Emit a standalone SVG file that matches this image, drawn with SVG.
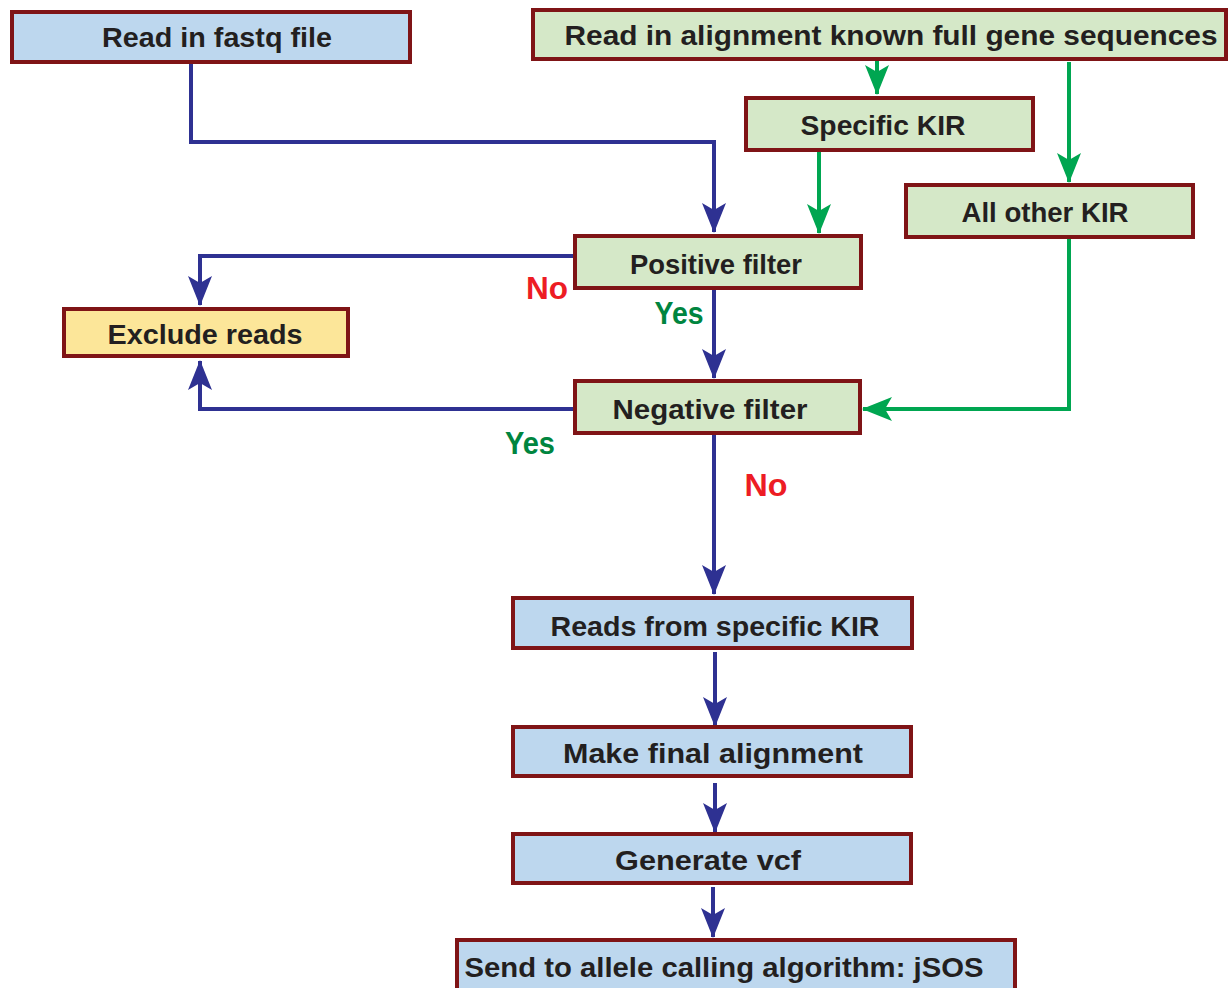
<svg xmlns="http://www.w3.org/2000/svg" width="1228" height="988" viewBox="0 0 1228 988">
<style>
.box{stroke:#7F1416;stroke-width:4}
.blue{fill:#BDD7EE}
.green{fill:#D5E8C8}
.yellow{fill:#FCE699}
.t{font-family:"Liberation Sans",Arial,sans-serif;font-weight:bold;font-size:28px;fill:#231F20;text-anchor:middle}
.lbl{font-family:"Liberation Sans",Arial,sans-serif;font-weight:bold;font-size:31px;text-anchor:middle}
.cb{fill:none;stroke:#2E3192;stroke-width:4}
.cg{fill:none;stroke:#00A651;stroke-width:4}
</style>
<defs>
<marker id="ab" markerUnits="userSpaceOnUse" viewBox="0 0 30 24" refX="29" refY="12" markerWidth="30" markerHeight="24" orient="auto"><path d="M0,0 L30,12 L0,24 L7,12 Z" fill="#2E3192"/></marker>
<marker id="ag" markerUnits="userSpaceOnUse" viewBox="0 0 30 24" refX="29" refY="12" markerWidth="30" markerHeight="24" orient="auto"><path d="M0,0 L30,12 L0,24 L7,12 Z" fill="#00A651"/></marker>
</defs>
<rect width="1228" height="988" fill="#FFFFFF"/>
<g id="connectors">
<path class="cb" d="M191,62 V142 H714 V232" marker-end="url(#ab)"/>
<path class="cg" d="M877,60 V94" marker-end="url(#ag)"/>
<path class="cg" d="M1069,62 V182" marker-end="url(#ag)"/>
<path class="cg" d="M819,152 V233" marker-end="url(#ag)"/>
<path class="cg" d="M1069,238 V409 H863" marker-end="url(#ag)"/>
<path class="cb" d="M575,256 H200 V305" marker-end="url(#ab)"/>
<path class="cb" d="M714,289 V378" marker-end="url(#ab)"/>
<path class="cb" d="M575,409 H200 V361" marker-end="url(#ab)"/>
<path class="cb" d="M714,435 V594" marker-end="url(#ab)"/>
<path class="cb" d="M715,652 V726" marker-end="url(#ab)"/>
<path class="cb" d="M715,783 V832" marker-end="url(#ab)"/>
<path class="cb" d="M713,887 V937" marker-end="url(#ab)"/>
<text class="lbl" x="547" y="299" fill="#ED1C24" textLength="42" lengthAdjust="spacingAndGlyphs">No</text>
<text class="lbl" x="679" y="324" fill="#00853F" textLength="49" lengthAdjust="spacingAndGlyphs">Yes</text>
<text class="lbl" x="530" y="454" fill="#00853F" textLength="50" lengthAdjust="spacingAndGlyphs">Yes</text>
<text class="lbl" x="766" y="496" fill="#ED1C24" textLength="43" lengthAdjust="spacingAndGlyphs">No</text>
</g>
<g id="n_fastq"><rect class="box blue" x="12" y="12" width="398" height="50"/><text class="t" x="217" y="47" textLength="230" lengthAdjust="spacingAndGlyphs">Read in fastq file</text></g>
<g id="n_align"><rect class="box green" x="533" y="10" width="693" height="49"/><text class="t" x="891" y="45" textLength="653" lengthAdjust="spacingAndGlyphs">Read in alignment known full gene sequences</text></g>
<g id="n_specific"><rect class="box green" x="746" y="98" width="287" height="52"/><text class="t" x="883" y="135" textLength="165" lengthAdjust="spacingAndGlyphs">Specific KIR</text></g>
<g id="n_other"><rect class="box green" x="906" y="185" width="287" height="52"/><text class="t" x="1045" y="222" textLength="167" lengthAdjust="spacingAndGlyphs">All other KIR</text></g>
<g id="n_positive"><rect class="box green" x="575" y="236" width="286" height="52"/><text class="t" x="716" y="274" textLength="172" lengthAdjust="spacingAndGlyphs">Positive filter</text></g>
<g id="n_exclude"><rect class="box yellow" x="64" y="309" width="284" height="47"/><text class="t" x="205" y="344" textLength="195" lengthAdjust="spacingAndGlyphs">Exclude reads</text></g>
<g id="n_negative"><rect class="box green" x="575" y="381" width="285" height="52"/><text class="t" x="710" y="419" textLength="195" lengthAdjust="spacingAndGlyphs">Negative filter</text></g>
<g id="n_reads"><rect class="box blue" x="513" y="598" width="399" height="50"/><text class="t" x="715" y="636" textLength="329" lengthAdjust="spacingAndGlyphs">Reads from specific KIR</text></g>
<g id="n_final"><rect class="box blue" x="513" y="727" width="398" height="49"/><text class="t" x="713" y="763" textLength="300" lengthAdjust="spacingAndGlyphs">Make final alignment</text></g>
<g id="n_vcf"><rect class="box blue" x="513" y="834" width="398" height="49"/><text class="t" x="708" y="870" textLength="186" lengthAdjust="spacingAndGlyphs">Generate vcf</text></g>
<g id="n_send"><rect class="box blue" x="457" y="940" width="558" height="52"/><text class="t" x="724" y="977" textLength="519" lengthAdjust="spacingAndGlyphs">Send to allele calling algorithm: jSOS</text></g>
</svg>
